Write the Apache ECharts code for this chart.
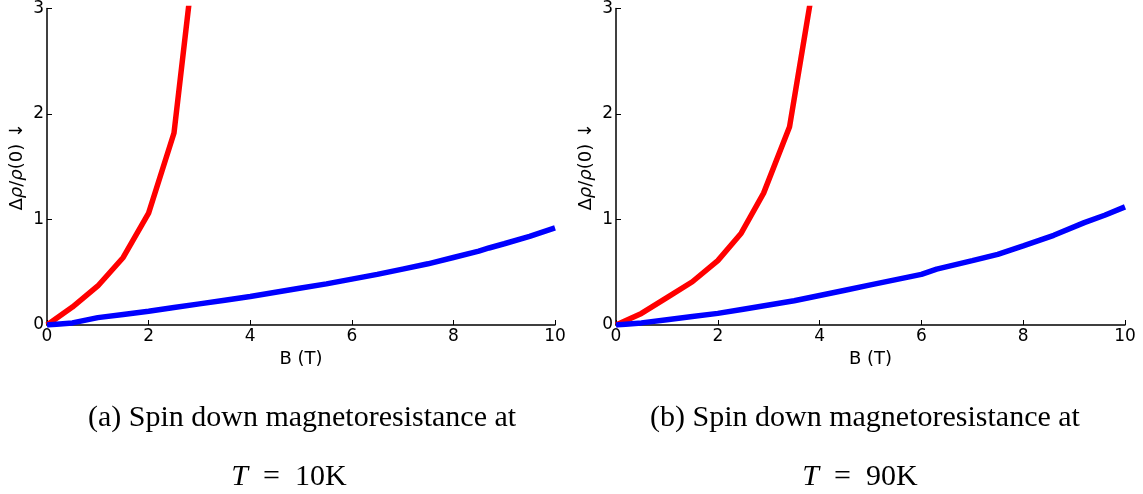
<!DOCTYPE html>
<html>
<head>
<meta charset="utf-8">
<script src="https://cdn.jsdelivr.net/npm/echarts@6/dist/echarts.min.js"></script>
<style>
  html, body { margin: 0; padding: 0; background: #fff; }
  #chart { width: 1143px; height: 494px; }
</style>
</head>
<body>
<div id="chart"></div>
<script>
  // spin down, T = 10K  [B (T), drho/rho(0)]
  const red10 = [[0, 0], [0.5, 0.17], [1.0, 0.37], [1.5, 0.64], [2.0, 1.06], [2.5, 1.82], [3.0, 3.9]]
  const blue10 = [[0, 0], [0.5, 0.02], [1.0, 0.07], [1.5, 0.1], [2.0, 0.13], [2.5, 0.165], [3.0, 0.2],
    [3.5, 0.235], [4.0, 0.27], [4.5, 0.31], [5.0, 0.35], [5.5, 0.39], [6.0, 0.435], [6.5, 0.48],
    [7.0, 0.53], [7.5, 0.58], [8.0, 0.64], [8.5, 0.7], [8.7, 0.73], [9.0, 0.77], [9.5, 0.84], [10.0, 0.92]]
  // spin down, T = 90K
  const red90 = [[0, 0], [0.5, 0.11], [1.0, 0.26], [1.5, 0.41], [2.0, 0.61], [2.46, 0.87], [2.9, 1.25],
    [3.41, 1.88], [3.9, 3.3]]
  const blue90 = [[0, 0], [0.5, 0.02], [1.0, 0.05], [1.5, 0.08], [2.0, 0.11], [2.5, 0.15], [3.0, 0.19],
    [3.5, 0.23], [4.0, 0.28], [4.5, 0.33], [5.0, 0.38], [5.5, 0.43], [6.0, 0.48], [6.3, 0.53],
    [7.0, 0.61], [7.5, 0.67], [8.0, 0.75], [8.6, 0.85], [9.2, 0.97], [9.6, 1.04], [10.0, 1.12]]
  const captions = ['(a) Spin down magnetoresistance at', '(b) Spin down magnetoresistance at']
  const temps = ['10K', '90K']
  const xLabel = 'B (T)'

  let myChart = echarts.init(document.getElementById('chart'))
  const sans = 'DejaVu Sans'
  const serif = 'Liberation Serif'

  function xAx(i) {
    return {
      type: 'value', gridIndex: i, min: 0, max: 10, interval: 2,
      name: xLabel, nameLocation: 'middle', nameGap: 24,
      nameTextStyle: { fontFamily: sans, fontSize: 18, color: '#000' },
      axisLine: { lineStyle: { color: '#000', width: 1.5 } },
      axisTick: { inside: true, length: 5, lineStyle: { color: '#000' } },
      axisLabel: { fontFamily: sans, fontSize: 17, color: '#000', margin: 3 },
      splitLine: { show: false }
    }
  }
  function yAx(i) {
    return {
      type: 'value', gridIndex: i, min: 0, max: 3, interval: 1,
      name: 'Δ{i|ρ}/{i|ρ}(0) ↓', nameLocation: 'middle', nameGap: 21,
      nameTextStyle: {
        fontFamily: sans, fontSize: 18, color: '#000',
        rich: { i: { fontFamily: sans, fontSize: 18, fontStyle: 'italic', color: '#000' } }
      },
      axisLine: { show: true, lineStyle: { color: '#000', width: 1.5 } },
      axisTick: { show: true, inside: true, length: 5, lineStyle: { color: '#000' } },
      axisLabel: { fontFamily: sans, fontSize: 17, color: '#000', margin: 3 },
      splitLine: { show: false }
    }
  }
  function line(data, color, i) {
    return {
      type: 'line', xAxisIndex: i, yAxisIndex: i, data: data,
      showSymbol: false, clip: true, animation: false,
      lineStyle: { color: color, width: 5.5 }
    }
  }

  const centers = [297, 860]
  const tCenters = [284, 855]
  const title = []
  for (let i = 0; i < 2; i++) {
    title.push({
      text: captions[i], left: centers[i], top: 398, textAlign: 'center',
      textStyle: { fontFamily: serif, fontSize: 30, fontWeight: 'normal', color: '#000' }
    })
    title.push({
      text: '{i|T}  =  ' + temps[i], left: tCenters[i], top: 457, textAlign: 'center',
      textStyle: {
        fontFamily: serif, fontSize: 30, fontWeight: 'normal', color: '#000',
        rich: { i: { fontFamily: serif, fontSize: 30, fontStyle: 'italic', color: '#000' } }
      }
    })
  }

  const option = {
    backgroundColor: '#fff',
    animation: false,
    title: title,
    grid: [
      { left: 47, top: 8, width: 508, height: 317 },
      { left: 616, top: 8, width: 509, height: 317 }
    ],
    xAxis: [xAx(0), xAx(1)],
    yAxis: [yAx(0), yAx(1)],
    series: [
      line(red10, '#ff0000', 0),
      line(blue10, '#0000ff', 0),
      line(red90, '#ff0000', 1),
      line(blue90, '#0000ff', 1)
    ]
  }
  myChart.setOption(option)
  window.addEventListener('resize', function () {
    myChart.resize()
  })
</script>
</body>
</html>
